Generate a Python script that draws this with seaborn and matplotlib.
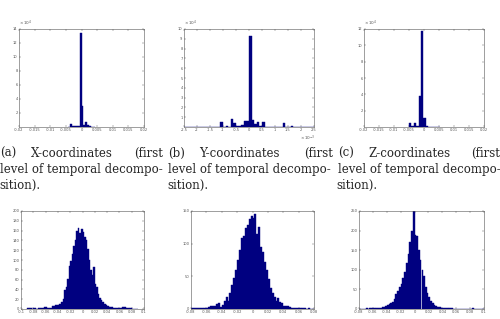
import numpy as np
import pandas as pd
import matplotlib
matplotlib.use("Agg")
import matplotlib.pyplot as plt
import seaborn as sns

# ---------------- data (bin counts) ----------------
# top row: first level of temporal decomposition
a_start, a_width = -0.0042, 0.0006
a_counts = [500, 5000, 1000, 1000, 1500, 2000, 135000, 30000, 3000, 7000, 3000, 2000, 500, 0]

b_start, b_width = -0.0025, 0.0001
b_counts = [0, 0, 0, 0, 0, 0, 0, 0, 0, 0, 0, 0, 0, 0,
            5000, 500, 1500, 500, 8500, 4500, 1000, 1500, 2500, 6000, 6500,
            93000, 7000, 3000, 5500, 1500, 5000, 500, 500, 500, 500, 500, 500, 500,
            4000, 500, 500, 1500, 0, 0, 0, 0, 0, 0, 0, 0]

c_start, c_width = -0.005, 0.0008
c_counts = [4500, 1000, 5000, 1500, 38000, 117000, 10500, 1000, 500, 0, 0, 0, 0]

# bottom row
d_start, d_width = -0.09, 0.0025
d_counts = [2, 2, 2, 1, 2, 2, 1, 2, 2, 3, 3, 5, 4, 2, 3, 3, 6, 7, 8, 8, 9, 10, 14, 20,
            38, 45, 62, 88, 98, 112, 128, 140, 160, 165, 155, 163,
            158, 147, 140, 122, 100, 80, 70, 85, 52, 45, 30, 23, 19, 15, 11, 9, 7, 5,
            5, 4, 3, 3, 2, 2, 2, 3, 4, 4, 2, 2, 2, 2, 1, 1, 1, 0]

e_start, e_width = -0.08, 0.0025
e_counts = [2, 1, 2, 1, 2, 2, 1, 2, 2, 3, 5, 5, 5, 7, 9, 3, 6, 12, 18, 12, 25, 36, 47, 60,
            75, 90, 108, 112, 124, 128, 138, 142,
            140, 145, 115, 125, 95, 88, 72, 60, 46, 32, 24, 18, 12, 17, 10, 9, 5, 5,
            4, 3, 2, 2, 1, 2, 1, 2, 1, 1, 0, 1, 0, 0]

f_start, f_width = -0.08, 0.0025
f_counts = [0, 1, 1, 1, 2, 1, 2, 2, 2, 3, 3, 3, 3, 4, 4, 7, 9, 12, 15, 19, 25, 37, 45, 55,
            63, 80, 95, 118, 140, 172, 200, 250,
            188, 185, 150, 125, 100, 85, 55, 42, 30, 20, 15, 10, 8, 5, 4, 3, 3, 3, 2, 2,
            2, 2, 1, 1, 1, 1, 0, 1, 0, 0, 0, 0, 0, 2, 0, 0, 0, 0, 0, 0]

# axis ticks / labels
ac_xticks = [-0.02, -0.015, -0.01, -0.005, 0, 0.005, 0.01, 0.015, 0.02]
ac_xlabels = ["-0.02", "-0.015", "-0.01", "-0.005", "0", "0.005", "0.01", "0.015", "0.02"]
b_xticks = [-0.0025, -0.002, -0.0015, -0.001, -0.0005, 0, 0.0005, 0.001, 0.0015, 0.002, 0.0025]
b_xlabels = ["-2.5", "-2", "-1.5", "-1", "-0.5", "0", "0.5", "1", "1.5", "2", "2.5"]
a_yticks = [20000, 40000, 60000, 80000, 100000, 120000, 140000]
a_ylabels = ["2", "4", "6", "8", "10", "12", "14"]
b_yticks = [10000, 20000, 30000, 40000, 50000, 60000, 70000, 80000, 90000, 100000]
b_ylabels = ["1", "2", "3", "4", "5", "6", "7", "8", "9", "10"]
c_yticks = [20000, 40000, 60000, 80000, 100000, 120000]
c_ylabels = ["2", "4", "6", "8", "10", "12"]
d_xticks = [-0.1, -0.08, -0.06, -0.04, -0.02, 0, 0.02, 0.04, 0.06, 0.08, 0.1]
d_xlabels = ["-0.1", "-0.08", "-0.06", "-0.04", "-0.02", "0", "0.02", "0.04", "0.06", "0.08", "0.1"]
e_xticks = [-0.08, -0.06, -0.04, -0.02, 0, 0.02, 0.04, 0.06, 0.08]
e_xlabels = ["-0.08", "-0.06", "-0.04", "-0.02", "0", "0.02", "0.04", "0.06", "0.08"]
f_xticks = [-0.08, -0.06, -0.04, -0.02, 0, 0.02, 0.04, 0.06, 0.08, 0.1]
f_xlabels = ["-0.08", "-0.06", "-0.04", "-0.02", "0", "0.02", "0.04", "0.06", "0.08", "0.1"]
d_yticks = list(range(0, 201, 20))
e_yticks = [0, 50, 100, 150]
f_yticks = [0, 50, 100, 150, 200, 250]

y_multiplier = r"$\times\,10^{4}$"
b_x_multiplier = r"$\times\,10^{-3}$"

captions = [("(a)", "X-coordinates"), ("(b)", "Y-coordinates"), ("(c)", "Z-coordinates")]
caption_line2 = "level of temporal decompo-"
caption_line3 = "sition)."

# ---------------- drawing ----------------
sns.set_style("ticks")
plt.rcParams["axes.unicode_minus"] = False
BAR = "#000080"
GREY = "#555555"

fig = plt.figure(figsize=(5.0, 3.19), dpi=100)
W, H = 500.0, 319.0


def add_ax(l, t, r, b):
    return fig.add_axes([l / W, 1 - b / H, (r - l) / W, (b - t) / H])


def hist(ax, start, width, counts):
    counts = np.asarray(counts, dtype=float)
    edges = start + width * np.arange(len(counts) + 1)
    centers = (edges[:-1] + edges[1:]) / 2
    df = pd.DataFrame({"value": centers, "count": counts})
    sns.histplot(data=df, x="value", weights="count", bins=edges.tolist(), ax=ax,
                 color=BAR, edgecolor=BAR, linewidth=0.3, alpha=1.0)
    ax.set_xlabel("")
    ax.set_ylabel("")


def style(ax):
    for s in ax.spines.values():
        s.set_linewidth(0.4)
        s.set_color(GREY)
        s.set_visible(True)
    ax.tick_params(direction="in", length=1.5, width=0.3, labelsize=2.6,
                   colors=GREY, pad=1.0, top=True, right=True)


panels = [
    (add_ax(19, 29, 144, 127), a_start, a_width, a_counts),
    (add_ax(184, 29, 314, 127), b_start, b_width, b_counts),
    (add_ax(364, 29, 484, 127), c_start, c_width, c_counts),
    (add_ax(21, 211, 144, 309), d_start, d_width, d_counts),
    (add_ax(191, 211, 314, 309), e_start, e_width, e_counts),
    (add_ax(359, 211, 484, 309), f_start, f_width, f_counts),
]
for ax, s, w, c in panels:
    hist(ax, s, w, c)
    style(ax)

axA, axB, axC, axD, axE, axF = [p[0] for p in panels]

for ax, yt, yl, ymax in [(axA, a_yticks, a_ylabels, 140000),
                         (axB, b_yticks, b_ylabels, 100000),
                         (axC, c_yticks, c_ylabels, 120000)]:
    ax.set_ylim(0, ymax)
    ax.set_yticks(yt)
    ax.set_yticklabels(yl)
    ax.text(0.0, 1.015, y_multiplier, transform=ax.transAxes, ha="left", va="bottom",
            fontsize=3.0, color=GREY)

for ax in (axA, axC):
    ax.set_xlim(-0.02, 0.02)
    ax.set_xticks(ac_xticks)
    ax.set_xticklabels(ac_xlabels)

axB.set_xlim(-0.0025, 0.0025)
axB.set_xticks(b_xticks)
axB.set_xticklabels(b_xlabels)
axB.text(0.95, -0.07, b_x_multiplier, transform=axB.transAxes, ha="center", va="top",
         fontsize=3.0, color=GREY)

axD.set_xlim(-0.1, 0.1); axD.set_xticks(d_xticks); axD.set_xticklabels(d_xlabels)
axD.set_ylim(0, 200); axD.set_yticks(d_yticks)
axE.set_xlim(-0.08, 0.08); axE.set_xticks(e_xticks); axE.set_xticklabels(e_xlabels)
axE.set_ylim(0, 150); axE.set_yticks(e_yticks)
axF.set_xlim(-0.08, 0.1); axF.set_xticks(f_xticks); axF.set_xticklabels(f_xlabels)
axF.set_ylim(0, 250); axF.set_yticks(f_yticks)

# captions
serif = ["DejaVu Serif"]
fs = 8.5
starts = [0.0, 168.3, 337.7]
ends = [163.0, 332.7, 499.5]
for (lab, name), x0, x1 in zip(captions, starts, ends):
    fig.text(x0 / W, 1 - 153.3 / H, lab, ha="left", va="center", fontsize=fs, family=serif)
    fig.text((x0 + 30.5) / W, 1 - 153.3 / H, name, ha="left", va="center", fontsize=fs, family=serif)
    fig.text(x1 / W, 1 - 153.3 / H, "(first", ha="right", va="center", fontsize=fs, family=serif)
    fig.text(x0 / W, 1 - 169.3 / H, caption_line2, ha="left", va="center", fontsize=fs, family=serif)
    fig.text((x0 - 1) / W, 1 - 185.0 / H, caption_line3, ha="left", va="center", fontsize=fs, family=serif)

fig.savefig("out.png", dpi=100)
